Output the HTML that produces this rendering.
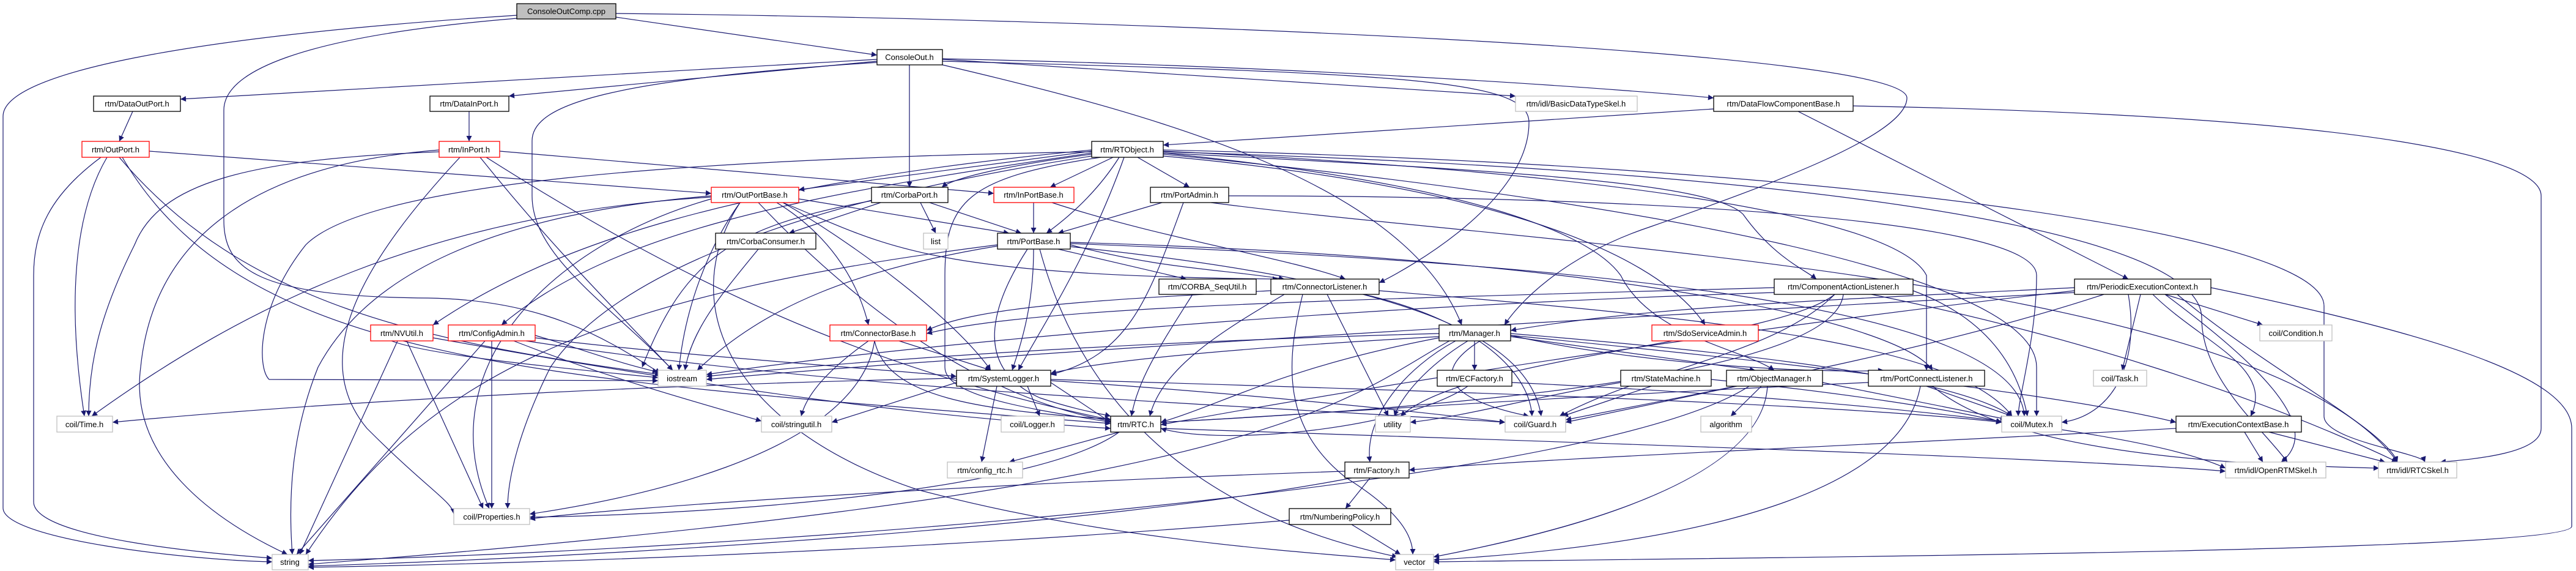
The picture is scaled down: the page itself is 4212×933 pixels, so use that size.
<!DOCTYPE html>
<html><head><meta charset="utf-8"><style>
html,body{margin:0;padding:0;background:#fff;}
svg{display:block;}
text{font-family:"Liberation Sans","DejaVu Sans",sans-serif;font-size:13px;fill:#000;}
.e{fill:none;stroke:#191970;stroke-width:1.2;marker-end:url(#a);}
.n{fill:#fff;stroke:#000;stroke-width:1.3;}
.r{fill:#fff;stroke:#ff0000;stroke-width:1.3;}
.g{fill:#fff;stroke:#bfbfbf;stroke-width:1.3;}
</style></head><body>
<svg width="4212" height="933" viewBox="0 0 4212 933" xmlns="http://www.w3.org/2000/svg">
<defs><marker id="a" viewBox="0 0 10 10" refX="10" refY="5" markerWidth="11" markerHeight="9" markerUnits="userSpaceOnUse" orient="auto"><path d="M0,0 L10,5 L0,10 z" fill="#191970"/></marker></defs>
<g>
<!-- ConsoleOutComp -->
<path class="e" d="M1007 28 L1434 90"/>
<path class="e" d="M845 25 C300 60 5 120 5 190 L5 830 C5 880 300 915 445 918"/>
<path class="e" d="M845 30 C480 60 366 120 366 180 L366 360 C366 440 420 485 700 487 C900 490 1000 560 1080 610"/>
<path class="e" d="M1007 22 C1800 30 3118 80 3118 160 C3118 220 2900 300 2700 370 C2550 420 2480 500 2460 531"/>
<!-- ConsoleOut -->
<path class="e" d="M1434 97 L295 162"/>
<path class="e" d="M1434 100 L832 157"/>
<path class="e" d="M1434 102 C1000 130 870 170 870 230 L870 320 C870 420 1000 500 1100 605"/>
<path class="e" d="M1487 106 L1487 306"/>
<path class="e" d="M1541 97 L2478 157"/>
<path class="e" d="M1541 96 C2200 110 2700 150 2802 160"/>
<path class="e" d="M1541 106 C1900 190 2300 300 2390 531"/>
<path class="e" d="M1541 100 C2300 120 2500 130 2500 200 C2500 330 2300 440 2255 462"/>
<!-- DataOutPort / DataInPort -->
<path class="e" d="M217 182 L195 231"/>
<path class="e" d="M767 182 L767 231"/>
<!-- DFCB -->
<path class="e" d="M2802 178 L1902 237"/>
<path class="e" d="M2940 182 L3480 456"/>
<path class="e" d="M3030 173 C3900 190 4155 260 4155 320 L4155 700 C4155 740 4050 750 3990 755"/>
<!-- RTObject -->
<path class="e" d="M1785 247 L1306 310"/>
<path class="e" d="M1785 252 C1650 270 1560 290 1540 306"/>
<path class="e" d="M1820 257 L1717 306"/>
<path class="e" d="M1860 257 L1945 306"/>
<path class="e" d="M1830 257 C1790 320 1740 360 1711 381"/>
<path class="e" d="M1838 257 C1780 420 1700 540 1665 605"/>
<path class="e" d="M1800 257 C1580 290 1545 330 1545 450 L1545 600 C1545 650 1700 670 1816 690"/>
<path class="e" d="M1785 250 C1300 320 1000 380 820 531"/>
<path class="e" d="M1785 245 C1200 300 900 400 708 531"/>
<path class="e" d="M1902 255 C2400 300 2700 400 2788 531"/>
<path class="e" d="M1902 250 C2500 280 2800 300 2850 350 C2900 420 2950 440 2970 456"/>
<path class="e" d="M1902 247 C2600 280 3100 350 3150 450 L3150 605"/>
<path class="e" d="M1902 250 C2400 300 2600 380 2650 450 C2700 550 2850 570 2901 605"/>
<path class="e" d="M1785 255 C1300 330 1000 450 900 600 C850 700 830 780 830 831"/>
<path class="e" d="M1902 245 C3000 270 3800 380 3800 500 L3800 680 C3800 720 3960 740 3965 755"/>
<path class="e" d="M1902 248 C3000 280 3600 380 3600 520 C3600 620 3700 700 3740 755"/>
<path class="e" d="M1902 252 C2700 330 3330 450 3330 600 L3330 680"/>
<path class="e" d="M1785 248 C1100 260 600 300 500 400 C420 500 420 600 440 620 L1076 622"/>
<!-- OutPort / InPort -->
<path class="e" d="M175 257 C120 350 110 500 138 680"/>
<path class="e" d="M165 257 C80 320 55 380 55 450 L55 820 C55 880 350 905 445 912"/>
<path class="e" d="M244 247 L1163 316"/>
<path class="e" d="M195 257 C400 500 700 560 1080 612"/>
<path class="e" d="M200 257 C400 600 900 620 1816 692"/>
<path class="e" d="M817 247 L1625 316"/>
<path class="e" d="M718 245 C400 270 250 400 230 600 C210 750 350 850 470 906"/>
<path class="e" d="M718 248 C400 260 260 300 220 400 C160 520 145 600 145 680"/>
<path class="e" d="M785 257 C900 400 1000 500 1100 605"/>
<path class="e" d="M795 257 C1100 450 1400 600 1816 686"/>
<path class="e" d="M752 257 C600 420 500 580 600 700 C700 800 740 820 742 840"/>
<!-- OutPortBase -->
<path class="e" d="M1306 325 L1650 381"/>
<path class="e" d="M1270 331 C1350 380 1400 450 1420 531"/>
<path class="e" d="M1280 331 C1400 400 1560 520 1620 605"/>
<path class="e" d="M1280 331 C1450 400 1500 450 2090 456"/>
<path class="e" d="M1210 331 C1160 400 1120 500 1110 605"/>
<path class="e" d="M1163 320 C800 350 600 450 520 600 C480 700 470 800 478 906"/>
<path class="e" d="M1163 325 C900 400 700 600 800 831"/>
<path class="e" d="M1210 331 C1100 500 1200 700 1500 800 C1800 880 2100 900 2282 915"/>
<path class="e" d="M1163 322 C700 350 400 500 150 680"/>
<path class="e" d="M1240 331 C1400 500 1600 650 1816 688"/>
<!-- CorbaPort -->
<path class="e" d="M1440 331 L1290 381"/>
<path class="e" d="M1505 331 L1530 381"/>
<path class="e" d="M1520 331 L1670 381"/>
<path class="e" d="M1425 328 C1200 370 1120 420 1050 600"/>
<!-- InPortBase -->
<path class="e" d="M1690 331 L1690 381"/>
<path class="e" d="M1720 331 C1900 390 2100 420 2200 456"/>
<!-- PortAdmin -->
<path class="e" d="M1900 331 L1730 381"/>
<path class="e" d="M1935 331 C1880 480 1850 580 1718 612"/>
<path class="e" d="M2009 320 C2600 320 3330 350 3330 450 C3330 550 3300 650 3300 680"/>
<path class="e" d="M1980 331 C2500 400 3700 450 3920 755"/>
<!-- CorbaConsumer -->
<path class="e" d="M1240 407 C1180 480 1130 540 1120 605"/>
<!-- PortBase -->
<path class="e" d="M1730 407 L1940 456"/>
<path class="e" d="M1750 400 C1900 440 2000 440 2100 456"/>
<path class="e" d="M1690 407 C1690 500 1670 560 1655 605"/>
<path class="e" d="M1680 407 C1620 500 1590 600 1700 650 C1760 670 1800 676 1816 680"/>
<path class="e" d="M1700 407 C1780 700 2000 850 2285 910"/>
<path class="e" d="M1631 400 C1000 480 700 600 500 906"/>
<path class="e" d="M1631 402 C1400 440 1250 500 1140 605"/>
<path class="e" d="M1750 396 C2600 420 3100 520 3160 605"/>
<path class="e" d="M1750 398 C2600 430 3300 500 3310 680"/>
<path class="e" d="M1750 403 C2300 460 2500 550 2520 680"/>
<!-- CSU / CL -->
<path class="e" d="M1950 481 C1900 560 1860 620 1850 680"/>
<path class="e" d="M2078 475 C1800 490 1600 500 1515 540"/>
<path class="e" d="M2100 481 C2000 540 1900 600 1880 680"/>
<path class="e" d="M2170 481 L2270 680"/>
<path class="e" d="M2130 481 C2100 600 2100 700 2200 780 C2280 830 2310 870 2310 906"/>
<path class="e" d="M2255 475 C2800 520 3200 560 3290 680"/>
<path class="e" d="M2230 481 C2400 520 2500 600 2505 680"/>
<!-- CAL -->
<path class="e" d="M2901 470 C2200 490 1700 500 1515 545"/>
<path class="e" d="M3060 481 C3400 550 3700 650 3920 755"/>
<path class="e" d="M3128 475 C3250 520 3300 600 3315 680"/>
<path class="e" d="M3000 481 C2900 580 2700 600 2550 680"/>
<path class="e" d="M3000 481 C2900 560 2400 580 2290 680"/>
<path class="e" d="M2901 478 C2200 500 1500 560 1155 612"/>
<path class="e" d="M3014 481 C3000 600 2500 660 1898 690"/>
<!-- PEC -->
<path class="e" d="M3392 470 C3000 490 2700 500 2470 540"/>
<path class="e" d="M3540 481 L3700 531"/>
<path class="e" d="M3500 481 L3470 605"/>
<path class="e" d="M3520 481 C3600 560 3720 600 3680 680"/>
<path class="e" d="M3540 481 C3700 600 3800 700 3730 755"/>
<path class="e" d="M3560 481 C3700 600 3900 700 3920 755"/>
<path class="e" d="M3615 470 C4000 550 4205 620 4205 700 L4205 860 C4205 900 3000 910 2344 918"/>
<path class="e" d="M3480 481 C3500 600 3450 680 3371 690"/>
<path class="e" d="M3392 475 C2900 530 2300 620 1898 694"/>
<path class="e" d="M3440 481 C3200 560 2900 620 2560 686"/>
<path class="e" d="M3392 478 C2600 520 1600 580 1155 620"/>
<!-- NVUtil / ConfigAdmin -->
<path class="e" d="M650 557 L490 906"/>
<path class="e" d="M665 557 L790 831"/>
<path class="e" d="M708 552 C1200 640 1500 680 1816 700"/>
<path class="e" d="M640 557 C700 580 900 600 1076 617"/>
<path class="e" d="M804 557 L804 831"/>
<path class="e" d="M793 557 L485 906"/>
<path class="e" d="M875 548 C950 570 1000 590 1076 608"/>
<path class="e" d="M840 557 C1000 620 1150 660 1245 688"/>
<path class="e" d="M875 552 C1100 580 1400 600 1564 615"/>
<path class="e" d="M860 557 C1400 640 2000 660 2461 690"/>
<!-- ConnectorBase -->
<path class="e" d="M1470 557 L1620 605"/>
<path class="e" d="M1420 557 C1360 600 1320 640 1310 680"/>
<path class="e" d="M1430 557 C1450 650 1600 670 1816 685"/>
<path class="e" d="M1430 557 C1400 750 1000 820 866 840"/>
<!-- Manager -->
<path class="e" d="M2353 545 C1800 560 1400 590 1155 615"/>
<path class="e" d="M2353 550 C2000 570 1800 590 1718 610"/>
<path class="e" d="M2411 557 L2411 605"/>
<path class="e" d="M2470 550 L2870 605"/>
<path class="e" d="M2380 557 C2300 600 2230 680 2240 755"/>
<path class="e" d="M2400 557 C2330 600 2290 650 2280 680"/>
<path class="e" d="M2420 557 C2320 620 2400 660 2500 680"/>
<path class="e" d="M2470 545 C2900 580 3200 620 3290 680"/>
<path class="e" d="M2353 552 C2100 600 2000 660 1898 690"/>
<path class="e" d="M2370 557 C2200 650 2100 800 504 922"/>
<path class="e" d="M2470 548 C2700 600 3000 610 3080 605"/>
<path class="e" d="M2470 548 C3000 600 3400 650 3558 690"/>
<!-- SystemLogger -->
<path class="e" d="M1680 631 L1700 680"/>
<path class="e" d="M1630 631 L1605 755"/>
<path class="e" d="M1564 625 L1360 690"/>
<path class="e" d="M1564 618 C1000 630 500 660 184 690"/>
<path class="e" d="M1718 625 L1816 690"/>
<path class="e" d="M1718 620 C2400 640 3000 660 3273 690"/>
<path class="e" d="M1718 622 C2000 640 2300 670 2461 690"/>
<!-- ECFactory -->
<path class="e" d="M2400 631 C2300 700 2000 730 1898 700"/>
<path class="e" d="M2472 625 C3000 650 3500 700 3639 765"/>
<!-- StateMachine / ObjectManager -->
<path class="e" d="M2798 620 C3000 640 3200 670 3273 690"/>
<path class="e" d="M2700 631 L2555 680"/>
<path class="e" d="M2650 625 C2500 650 2400 680 2306 690"/>
<path class="e" d="M2880 631 L2830 680"/>
<path class="e" d="M2890 631 C2880 800 2500 880 2344 910"/>
<path class="e" d="M2860 631 C2600 800 1200 900 504 916"/>
<path class="e" d="M2980 625 L3280 685"/>
<path class="e" d="M2840 631 L2560 690"/>
<!-- PortConnectListener -->
<path class="e" d="M3150 631 L3290 680"/>
<path class="e" d="M3140 631 C3100 850 2600 900 2344 915"/>
<path class="e" d="M3160 631 C3300 750 3700 760 3890 765"/>
<path class="e" d="M3055 625 C2500 650 2100 680 1898 690"/>
<!-- RTC.h -->
<path class="e" d="M1830 706 L1650 755"/>
<path class="e" d="M1898 700 C2800 730 3400 750 3639 770"/>
<path class="e" d="M1830 706 C1700 800 1200 840 866 845"/>
<!-- ECB -->
<path class="e" d="M3670 706 L3700 755"/>
<path class="e" d="M3710 706 L3900 755"/>
<path class="e" d="M3558 700 C3000 730 2500 750 2304 768"/>
<!-- Factory / NP -->
<path class="e" d="M2199 770 C1600 790 1000 830 866 848"/>
<path class="e" d="M2240 781 L2200 831"/>
<path class="e" d="M2210 781 C1800 860 1000 910 504 925"/>
<path class="e" d="M2108 850 C1500 900 900 920 504 927"/>
<path class="e" d="M2210 857 L2290 906"/>
</g>
<g>
<rect x="845" y="6" width="162" height="25" fill="#bfbfbf" stroke="#000" stroke-width="1.3"/><text x="926" y="23" text-anchor="middle">ConsoleOutComp.cpp</text>
<rect class="n" x="1434" y="81" width="107" height="25"/><text x="1487" y="98" text-anchor="middle">ConsoleOut.h</text>
<rect class="n" x="153" y="157" width="142" height="25"/><text x="224" y="174" text-anchor="middle">rtm/DataOutPort.h</text>
<rect class="n" x="703" y="157" width="129" height="25"/><text x="767" y="174" text-anchor="middle">rtm/DataInPort.h</text>
<rect class="g" x="2478" y="157" width="199" height="25"/><text x="2577" y="174" text-anchor="middle">rtm/idl/BasicDataTypeSkel.h</text>
<rect class="n" x="2802" y="157" width="228" height="25"/><text x="2916" y="174" text-anchor="middle">rtm/DataFlowComponentBase.h</text>
<rect class="r" x="134" y="231" width="110" height="26"/><text x="189" y="249" text-anchor="middle">rtm/OutPort.h</text>
<rect class="r" x="718" y="231" width="99" height="26"/><text x="767" y="249" text-anchor="middle">rtm/InPort.h</text>
<rect class="n" x="1785" y="231" width="117" height="26"/><text x="1843" y="249" text-anchor="middle">rtm/RTObject.h</text>
<rect class="r" x="1163" y="306" width="143" height="25"/><text x="1234" y="323" text-anchor="middle">rtm/OutPortBase.h</text>
<rect class="n" x="1425" y="306" width="125" height="25"/><text x="1487" y="323" text-anchor="middle">rtm/CorbaPort.h</text>
<rect class="r" x="1625" y="306" width="131" height="25"/><text x="1690" y="323" text-anchor="middle">rtm/InPortBase.h</text>
<rect class="n" x="1881" y="306" width="128" height="25"/><text x="1945" y="323" text-anchor="middle">rtm/PortAdmin.h</text>
<rect class="n" x="1170" y="381" width="164" height="26"/><text x="1252" y="399" text-anchor="middle">rtm/CorbaConsumer.h</text>
<rect class="g" x="1510" y="381" width="40" height="26"/><text x="1530" y="399" text-anchor="middle">list</text>
<rect class="n" x="1631" y="381" width="119" height="26"/><text x="1690" y="399" text-anchor="middle">rtm/PortBase.h</text>
<rect class="n" x="1895" y="456" width="159" height="25"/><text x="1974" y="473" text-anchor="middle">rtm/CORBA_SeqUtil.h</text>
<rect class="n" x="2078" y="456" width="177" height="25"/><text x="2166" y="473" text-anchor="middle">rtm/ConnectorListener.h</text>
<rect class="n" x="2901" y="456" width="227" height="25"/><text x="3014" y="473" text-anchor="middle">rtm/ComponentActionListener.h</text>
<rect class="n" x="3392" y="456" width="223" height="25"/><text x="3503" y="473" text-anchor="middle">rtm/PeriodicExecutionContext.h</text>
<rect class="r" x="606" y="531" width="102" height="26"/><text x="657" y="549" text-anchor="middle">rtm/NVUtil.h</text>
<rect class="r" x="733" y="531" width="142" height="26"/><text x="804" y="549" text-anchor="middle">rtm/ConfigAdmin.h</text>
<rect class="r" x="1357" y="531" width="158" height="26"/><text x="1436" y="549" text-anchor="middle">rtm/ConnectorBase.h</text>
<rect class="n" x="2353" y="531" width="117" height="26"/><text x="2411" y="549" text-anchor="middle">rtm/Manager.h</text>
<rect class="r" x="2701" y="531" width="174" height="26"/><text x="2788" y="549" text-anchor="middle">rtm/SdoServiceAdmin.h</text>
<rect class="g" x="3695" y="531" width="118" height="26"/><text x="3754" y="549" text-anchor="middle">coil/Condition.h</text>
<rect class="g" x="1076" y="605" width="79" height="26"/><text x="1115" y="623" text-anchor="middle">iostream</text>
<rect class="n" x="1564" y="605" width="154" height="26"/><text x="1641" y="623" text-anchor="middle">rtm/SystemLogger.h</text>
<rect class="n" x="2350" y="605" width="122" height="26"/><text x="2411" y="623" text-anchor="middle">rtm/ECFactory.h</text>
<rect class="n" x="2650" y="605" width="148" height="26"/><text x="2724" y="623" text-anchor="middle">rtm/StateMachine.h</text>
<rect class="n" x="2823" y="605" width="157" height="26"/><text x="2901" y="623" text-anchor="middle">rtm/ObjectManager.h</text>
<rect class="n" x="3055" y="605" width="190" height="26"/><text x="3150" y="623" text-anchor="middle">rtm/PortConnectListener.h</text>
<rect class="g" x="3423" y="605" width="87" height="26"/><text x="3466" y="623" text-anchor="middle">coil/Task.h</text>
<rect class="g" x="93" y="680" width="91" height="26"/><text x="138" y="698" text-anchor="middle">coil/Time.h</text>
<rect class="g" x="1245" y="680" width="115" height="26"/><text x="1302" y="698" text-anchor="middle">coil/stringutil.h</text>
<rect class="g" x="1637" y="680" width="103" height="26"/><text x="1688" y="698" text-anchor="middle">coil/Logger.h</text>
<rect class="n" x="1816" y="680" width="82" height="26"/><text x="1857" y="698" text-anchor="middle">rtm/RTC.h</text>
<rect class="g" x="2249" y="680" width="57" height="26"/><text x="2277" y="698" text-anchor="middle">utility</text>
<rect class="g" x="2461" y="680" width="99" height="26"/><text x="2510" y="698" text-anchor="middle">coil/Guard.h</text>
<rect class="g" x="2781" y="680" width="83" height="26"/><text x="2822" y="698" text-anchor="middle">algorithm</text>
<rect class="g" x="3273" y="680" width="98" height="26"/><text x="3322" y="698" text-anchor="middle">coil/Mutex.h</text>
<rect class="n" x="3558" y="680" width="205" height="26"/><text x="3660" y="698" text-anchor="middle">rtm/ExecutionContextBase.h</text>
<rect class="g" x="1549" y="755" width="123" height="26"/><text x="1610" y="773" text-anchor="middle">rtm/config_rtc.h</text>
<rect class="n" x="2199" y="755" width="105" height="26"/><text x="2251" y="773" text-anchor="middle">rtm/Factory.h</text>
<rect class="g" x="3639" y="755" width="164" height="26"/><text x="3721" y="773" text-anchor="middle">rtm/idl/OpenRTMSkel.h</text>
<rect class="g" x="3889" y="755" width="128" height="26"/><text x="3953" y="773" text-anchor="middle">rtm/idl/RTCSkel.h</text>
<rect class="g" x="742" y="831" width="124" height="26"/><text x="804" y="849" text-anchor="middle">coil/Properties.h</text>
<rect class="n" x="2108" y="831" width="166" height="26"/><text x="2191" y="849" text-anchor="middle">rtm/NumberingPolicy.h</text>
<rect class="g" x="445" y="906" width="59" height="25"/><text x="474" y="923" text-anchor="middle">string</text>
<rect class="g" x="2282" y="906" width="62" height="25"/><text x="2313" y="923" text-anchor="middle">vector</text>
</g>
</svg>
</body></html>
